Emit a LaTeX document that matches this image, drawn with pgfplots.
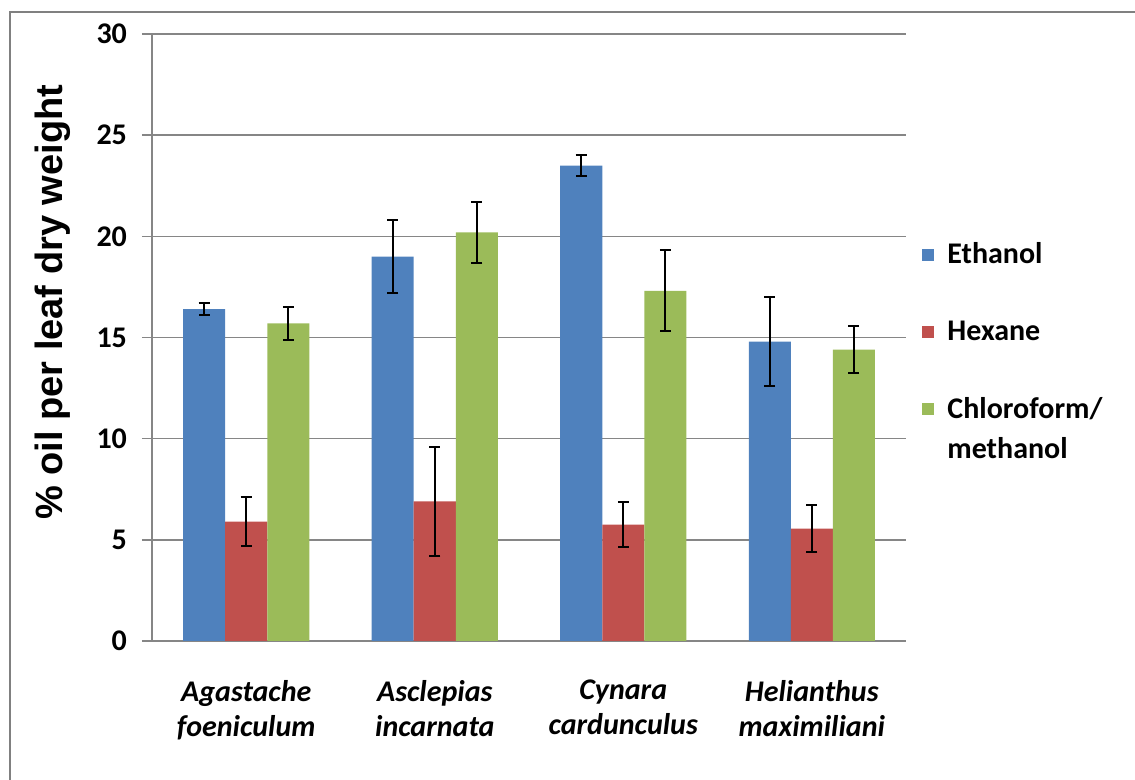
\documentclass[border=0pt]{standalone}
\usepackage{pgfplots}
\pgfplotsset{compat=1.18}
\usepackage{pgfplotstable}
\usepackage{fontspec}
\setmainfont{Carlito}
\newfontfamily\arialfont{Liberation Sans}
\definecolor{cEth}{RGB}{79,129,189}
\definecolor{cHex}{RGB}{192,80,77}
\definecolor{cChl}{RGB}{155,187,89}
\definecolor{cGrid}{RGB}{134,134,134}
\definecolor{cFrame}{RGB}{128,128,128}
\pgfplotstableread{
x y e
0 16.4 0.3
1 19.0 1.8
2 23.5 0.5
3 14.8 2.2
}\ethanol
\pgfplotstableread{
x y e
0 5.9 1.2
1 6.9 2.7
2 5.75 1.1
3 5.55 1.15
}\hexane
\pgfplotstableread{
x y e
0 15.7 0.8
1 20.2 1.5
2 17.3 2.0
3 14.4 1.15
}\chloro
\begin{document}
\begin{tikzpicture}
\useasboundingbox (0,0) rectangle (567.5pt,390pt);
\draw[cFrame, line width=1pt] (5pt,0) -- (5pt,384pt) -- (567.5pt,384pt);
\begin{axis}[
  at={(76pt,69.5pt)}, anchor=south west,
  scale only axis, width=377pt, height=303.5pt,
  ybar=0pt, bar width=21pt,
  xmin=-0.5, xmax=3.5, ymin=0, ymax=30,
  xtick={0,1,2,3},
  xticklabels={{Agastache\\foeniculum},{Asclepias\\incarnata},{Cynara\\cardunculus},{Helianthus\\maximiliani}},
  xticklabel style={align=center, font=\bfseries\itshape\fontsize{15}{17.5}\selectfont, yshift=-11pt},
  x tick style={draw=none},
  ytick={0,5,...,30},
  yticklabel style={font=\bfseries\fontsize{15}{16}\selectfont, xshift=-4pt},
  /pgf/number format/assume math mode=true,
  y tick style={cGrid, line width=0.8pt},
  tick align=outside, major tick length=5pt,
  ymajorgrids, grid style={cGrid, line width=0.8pt},
  axis x line*=bottom, axis y line*=left,
  axis line style={cGrid, line width=0.8pt, -},
  ylabel={\% oil per leaf dry weight},
  ylabel style={font=\arialfont\bfseries\fontsize{19}{23}\selectfont, at={(axis description cs:-0.131,0.558)}, anchor=center},
  legend style={at={(axis description cs:1.0133,0.476)}, anchor=west, draw=none, fill=none,
    font=\bfseries\fontsize{15}{20}\selectfont, row sep=23pt, cells={align=left}},
  legend cell align=left,
  legend image code/.code={\fill[#1,draw=none] (0pt,-3pt) rectangle (6pt,3pt); \path (10.5pt,0pt);},
  error bars/error bar style={black, line width=1pt},
  error bars/error mark options={rotate=90, mark size=2.75pt, black, line width=1pt},
]
\addplot[fill=cEth, draw=none, error bars/.cd, y dir=both, y explicit] table[x=x, y=y, y error=e] {\ethanol};
\addlegendentry{Ethanol}
\addplot[fill=cHex, draw=none, error bars/.cd, y dir=both, y explicit] table[x=x, y=y, y error=e] {\hexane};
\addlegendentry{Hexane}
\addplot[fill=cChl, draw=none,
  legend image code/.code={\fill[cChl] (0pt,7pt) rectangle (6pt,13pt); \path (10.5pt,0pt);},
  error bars/.cd, y dir=both, y explicit] table[x=x, y=y, y error=e] {\chloro};
\addlegendentry{Chloroform/\\methanol}
\end{axis}
\end{tikzpicture}
\end{document}
